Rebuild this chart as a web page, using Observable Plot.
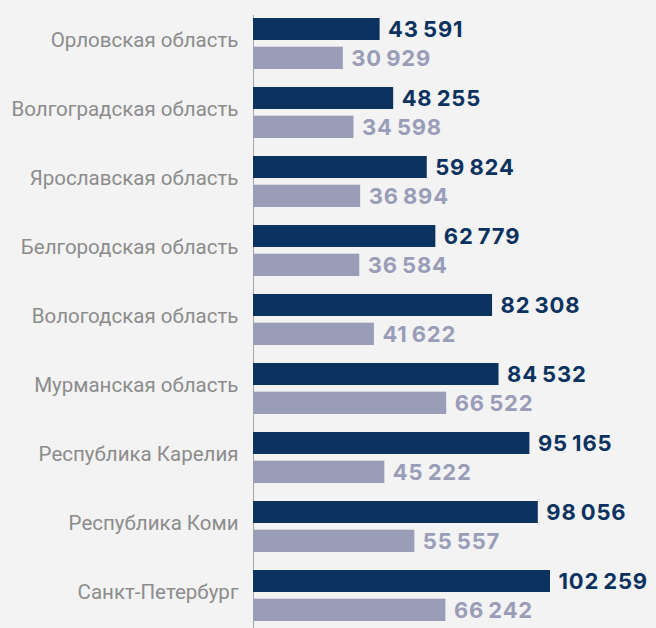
<!DOCTYPE html>
<html>
<head>
<meta charset="utf-8">
<script src="https://cdn.jsdelivr.net/npm/d3@7"></script>
<script src="https://cdn.jsdelivr.net/npm/@observablehq/plot@0.6"></script>
<style>
  html, body { margin: 0; padding: 0; background: #f3f3f3; }
  #chart svg { display: block; background: #f3f3f3; }
  .vals text { letter-spacing: 0.8px; }
</style>
</head>
<body>
<div id="chart"></div>
<script>
const regions = [
  "Орловская область",
  "Волгоградская область",
  "Ярославская область",
  "Белгородская область",
  "Вологодская область",
  "Мурманская область",
  "Республика Карелия",
  "Республика Коми",
  "Санкт-Петербург"
];
const seriesDark = [43591, 48255, 59824, 62779, 82308, 84532, 95165, 98056, 102259];
const seriesLight = [30929, 34598, 36894, 36584, 41622, 66522, 45222, 55557, 66242];

const darkColor = "#0c3260";
const lightColor = "#9a9db8";

const rowsDark = regions.map((r, i) => ({region: r, value: seriesDark[i]}));
const rowsLight = regions.map((r, i) => ({region: r, value: seriesLight[i]}));

const fmt = v => d3.format(",")(v).replace(/,/g, "\u2009");

const band = 69.7;
const chart = Plot.plot({
  width: 656,
  height: 628,
  marginLeft: 253,
  marginRight: 106,
  marginTop: 15,
  marginBottom: 0,
  style: {background: "#f3f3f3"},
  x: {domain: [0, 102259], axis: null},
  y: {domain: regions, range: [7, 7 + 9 * band], padding: 0, label: null},
  marks: [
    Plot.ruleX([0], {stroke: "#a8a8a8", strokeWidth: 1}),
    Plot.barX(rowsDark, {x: "value", y: "region", fill: darkColor, insetTop: 8, insetBottom: 39}),
    Plot.barX(rowsLight, {x: "value", y: "region", fill: lightColor, insetTop: 36.7, insetBottom: 10}),
    Plot.text(rowsDark, {x: "value", y: "region", text: d => fmt(d.value), textAnchor: "start", lineAnchor: "bottom",
      dx: 8, dy: -7.8, fill: darkColor, fontSize: 22, fontWeight: 700, fontFamily: "Inter", className: "vals"}),
    Plot.text(rowsLight, {x: "value", y: "region", text: d => fmt(d.value), textAnchor: "start", lineAnchor: "bottom",
      dx: 8, dy: 20.7, fill: lightColor, fontSize: 22, fontWeight: 700, fontFamily: "Inter", className: "vals"}),
    Plot.axisY({tickSize: 0, tickPadding: 15, fontSize: 20.5, fontFamily: "Roboto", fill: "#8c8c8c", dy: -5, label: null})
  ]
});
document.getElementById("chart").append(chart);
</script>
</body>
</html>
